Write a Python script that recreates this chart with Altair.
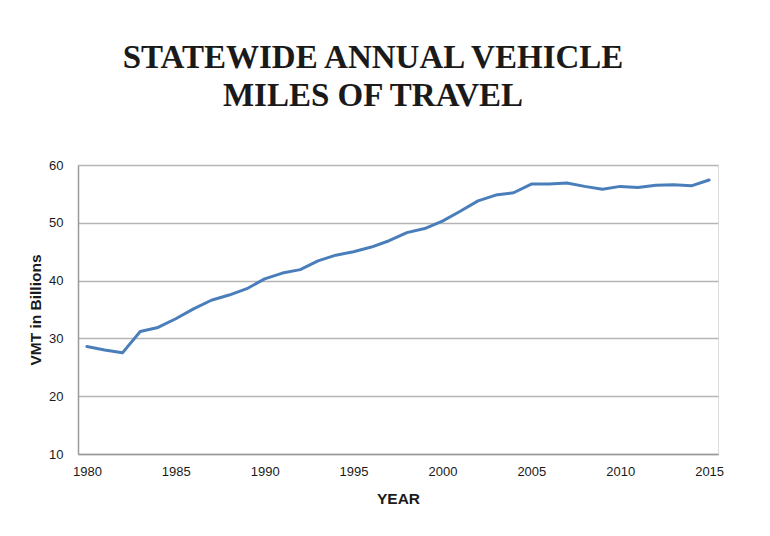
import altair as alt
import pandas as pd

years = list(range(1980, 2016))
vmt = [28.6, 28.0, 27.5, 31.2, 31.9, 33.4, 35.1, 36.6, 37.5, 38.6,
       40.3, 41.3, 41.9, 43.4, 44.4, 45.0, 45.8, 46.9, 48.3, 49.0,
       50.3, 52.0, 53.8, 54.8, 55.2, 56.7, 56.7, 56.9, 56.3, 55.8,
       56.3, 56.1, 56.5, 56.6, 56.4, 57.4]
x_ticks = [1980, 1985, 1990, 1995, 2000, 2005, 2010, 2015]
y_ticks = [10, 20, 30, 40, 50, 60]

df = pd.DataFrame({"year": years, "vmt": vmt})

label_font = "Liberation Sans"

chart = alt.Chart(df).mark_line(
    color="#4a7ebb", strokeWidth=3, strokeJoin="round", strokeCap="round"
).encode(
    x=alt.X("year:Q",
            scale=alt.Scale(domain=[1979.5, 2015.5], nice=False, zero=False),
            axis=alt.Axis(values=x_ticks, format="d", title="YEAR",
                          grid=False, ticks=False, tickSize=0,
                          labelPadding=11, labelFont=label_font, labelFontSize=13,
                          labelColor="#1a1a1a",
                          domainColor="#9a9a9a", domainWidth=1.5,
                          titleFont=label_font, titleFontSize=15.5, titleFontWeight="bold",
                          titleColor="#1a1a1a", titleY=44, titleBaseline="middle")),
    y=alt.Y("vmt:Q",
            scale=alt.Scale(domain=[10, 60], nice=False, zero=False),
            axis=alt.Axis(values=y_ticks, title="VMT in Billions",
                          grid=True, gridColor="#b5b5b5", gridWidth=1.4,
                          ticks=False, tickSize=0, labelPadding=15,
                          labelFont=label_font, labelFontSize=13, labelColor="#1a1a1a",
                          domainColor="#9a9a9a", domainWidth=1.5,
                          titleFont=label_font, titleFontSize=15.5, titleFontWeight="bold",
                          titleColor="#1a1a1a", titleX=-43, titleY=144.5,
                          titleAlign="center", titleBaseline="middle", titleAngle=270)),
).properties(
    width=640,
    height=289,
    title=alt.TitleParams(
        text=["STATEWIDE ANNUAL VEHICLE", "MILES OF TRAVEL"],
        font="Liberation Serif", fontSize=33, fontWeight="bold", color="#1a1a1a",
        lineHeight=38, anchor="middle", dx=-25, offset=46,
    ),
    autosize=alt.AutoSizeParams(type="none"),
    padding={"left": 70, "top": 157, "right": 44, "bottom": 66},
).configure_view(stroke=None).configure(background="white")

chart.save("out.html", embed_options={"renderer": "svg", "actions": False})
